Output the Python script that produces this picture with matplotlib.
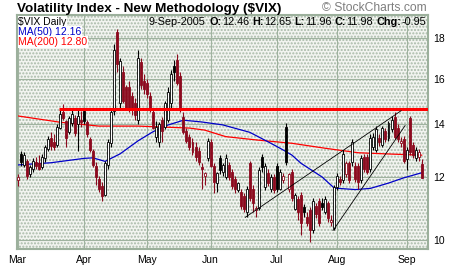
import numpy as np
import pandas as pd
import matplotlib
matplotlib.use('Agg')
import matplotlib.pyplot as plt

plt.rcParams['font.family'] = ['Liberation Sans', 'DejaVu Sans']

# trading days, 1 Mar - 9 Sep 2005 (exchange holidays dropped)
holidays = ['2005-03-25', '2005-05-30', '2005-07-04', '2005-09-05']
days = pd.bdate_range('2005-03-01', '2005-09-09').drop(pd.to_datetime(holidays))

opens = [11.90, 12.85, 12.45, 12.60, 12.10, 12.30, 12.55, 12.50, 12.35, 12.70,
         13.05, 13.45, 13.30, 13.20, 13.85, 14.50, 14.15, 13.70, 14.05, 14.25,
         14.00, 14.20, 14.55, 14.10, 13.40, 12.95, 12.40, 11.95, 11.70, 11.40,
         12.45, 13.25, 14.55, 18.30, 14.90, 16.30, 15.60, 15.60, 15.20, 14.90,
         14.20, 16.80, 15.90, 15.80, 15.20, 14.50, 13.50, 13.30, 14.20, 13.90,
         14.20, 14.90, 16.60, 16.90, 16.10, 14.30, 13.75, 13.50, 13.30, 13.10,
         12.95, 12.35, 12.05, 12.70, 13.30, 12.40, 11.80, 12.70, 12.20, 12.00,
         12.45, 12.20, 11.95, 11.58, 11.50, 11.35, 10.85, 12.50, 11.60, 10.90,
         10.98, 12.75, 11.65, 12.15, 11.60, 12.00, 12.40, 11.60, 11.90, 13.90,
         11.60, 12.20, 10.95, 11.25, 11.40, 11.00, 10.70, 10.90, 10.30, 11.05,
         11.20, 11.15, 10.85, 11.15, 10.55, 10.35, 11.65, 11.95, 11.90, 12.10,
         12.50, 12.55, 12.40, 12.40, 11.90, 12.75, 12.75, 12.30, 13.10, 13.00,
         13.45, 13.20, 13.75, 13.45, 13.80, 14.30, 13.85, 13.25, 13.40, 12.65,
         14.25, 13.20, 12.70, 12.75, 12.46]
highs = [12.10, 12.95, 12.90, 12.65, 12.45, 12.70, 12.75, 12.80, 12.85, 13.20,
         13.55, 13.70, 13.60, 14.00, 14.65, 14.85, 14.20, 14.35, 14.60, 14.40,
         14.60, 14.55, 14.70, 14.20, 13.50, 13.05, 12.55, 12.05, 11.85, 12.60,
         13.40, 14.60, 17.70, 18.50, 17.00, 16.60, 15.70, 15.90, 15.40, 15.10,
         17.40, 17.00, 16.20, 16.00, 15.40, 14.70, 14.15, 14.10, 14.30, 15.00,
         15.60, 16.40, 16.90, 17.20, 16.30, 14.50, 13.85, 13.60, 13.45, 13.30,
         13.10, 12.50, 12.20, 13.45, 13.40, 12.50, 12.20, 12.80, 12.50, 12.85,
         12.55, 12.30, 12.05, 11.85, 11.60, 11.45, 11.70, 12.60, 11.75, 11.05,
         12.35, 12.85, 12.50, 12.30, 12.10, 12.10, 12.50, 12.30, 12.15, 14.05,
         12.15, 12.30, 11.45, 11.35, 11.50, 11.10, 10.85, 11.00, 11.30, 11.15,
         11.30, 11.30, 11.35, 11.20, 10.75, 11.75, 12.15, 12.05, 13.00, 12.60,
         12.60, 13.40, 12.55, 12.50, 12.80, 12.85, 12.85, 13.60, 13.65, 13.95,
         13.60, 13.95, 13.85, 14.15, 14.35, 14.50, 14.00, 13.50, 13.55, 13.10,
         14.35, 13.30, 13.10, 13.05, 12.65]
lows = [11.70, 12.40, 12.35, 11.95, 12.00, 12.20, 12.30, 12.25, 12.30, 12.55,
        12.95, 13.00, 13.00, 13.10, 13.80, 14.20, 13.10, 13.60, 13.95, 13.55,
        12.95, 13.90, 14.00, 13.50, 12.90, 12.35, 11.75, 11.50, 11.20, 11.35,
        12.30, 13.10, 14.40, 16.30, 14.70, 14.90, 14.60, 14.50, 14.40, 14.20,
        14.00, 15.50, 15.30, 15.10, 14.50, 13.80, 13.30, 13.10, 13.30, 13.80,
        14.10, 14.70, 15.90, 15.70, 14.50, 13.60, 13.25, 13.00, 12.80, 12.60,
        12.45, 11.60, 11.75, 12.60, 12.35, 11.45, 11.50, 12.10, 12.05, 11.95,
        11.90, 11.60, 11.45, 11.50, 10.95, 10.85, 10.68, 11.20, 10.85, 10.70,
        10.90, 12.20, 11.55, 11.70, 11.50, 11.45, 11.50, 11.55, 11.80, 12.45,
        11.50, 11.20, 10.90, 10.60, 10.15, 10.70, 10.40, 9.95, 10.20, 10.65,
        10.40, 10.90, 10.80, 10.55, 10.40, 10.28, 11.55, 11.75, 11.80, 12.00,
        11.80, 12.40, 11.85, 11.60, 11.80, 12.20, 12.10, 12.20, 13.00, 12.90,
        13.15, 13.10, 13.30, 13.35, 13.70, 13.40, 13.30, 13.10, 12.50, 12.25,
        12.80, 12.70, 12.60, 12.60, 11.96]
closes = [12.00, 12.55, 12.80, 12.05, 12.35, 12.60, 12.40, 12.30, 12.75, 13.10,
          13.40, 13.15, 13.10, 13.90, 14.45, 14.25, 13.45, 14.25, 14.45, 13.65,
          14.35, 14.10, 14.15, 13.60, 13.00, 12.45, 12.00, 11.60, 11.35, 12.50,
          13.30, 14.50, 17.40, 16.70, 16.85, 15.00, 14.70, 14.65, 14.60, 14.40,
          17.00, 15.70, 15.50, 15.30, 14.60, 13.85, 13.90, 14.00, 13.75, 14.90,
          15.40, 16.20, 16.30, 15.80, 14.70, 13.70, 13.35, 13.10, 12.90, 12.75,
          12.55, 12.30, 12.15, 13.35, 12.40, 11.85, 12.15, 12.25, 12.45, 12.70,
          12.00, 11.70, 11.60, 11.80, 11.05, 10.95, 11.60, 11.30, 11.15, 10.97,
          12.25, 12.35, 12.40, 11.80, 12.00, 11.55, 11.60, 12.20, 12.05, 12.55,
          12.10, 11.30, 11.40, 10.85, 10.50, 10.85, 10.50, 10.30, 11.20, 10.80,
          10.50, 11.00, 11.25, 10.65, 10.60, 11.65, 12.05, 11.85, 12.85, 12.50,
          11.90, 13.30, 11.95, 11.85, 12.70, 12.30, 12.20, 13.45, 13.50, 13.80,
          13.30, 13.85, 13.40, 14.05, 14.20, 13.50, 13.40, 13.35, 12.60, 13.00,
          12.90, 12.80, 13.00, 12.93, 11.98]
prev_close = 12.10   # close of the session before 1 Mar

# moving averages at a few sessions
ma50_day = [0, 11, 22, 25, 29, 34, 40, 45, 50, 55, 61, 68, 77, 84, 88, 91,
            94, 101, 105, 112, 117, 123, 128, 134]
ma50_val = [12.44, 12.52, 12.68, 12.70, 12.57, 12.85, 13.35, 13.71, 13.98,
            14.17, 14.10, 13.98, 13.68, 13.25, 13.00, 12.80, 12.50, 12.01,
            11.63, 11.58, 11.62, 11.80, 11.98, 12.16]
ma200_day = [0, 14, 27, 40, 57, 62, 69, 80, 91, 102, 113, 124, 134]
ma200_val = [14.35, 14.09, 13.93, 13.93, 13.85, 13.77, 13.51, 13.37, 13.25,
             13.06, 12.89, 12.84, 12.80]

# hand-drawn annotations
resist_level = 14.65
resist_from = 13.6
trend_x = [(75.5, 127.2), (104.6, 128.5)]
trend_y = [(10.68, 14.57), (10.28, 13.95)]

y_ticks = [10, 12, 14, 16, 18]

RED = '#8c0a1e'
GRID = '#a0b3a0'

fig = plt.figure(figsize=(4.6, 2.66), dpi=100)
ax = fig.add_axes([17 / 460, 1 - 249 / 266, 411 / 460, 234 / 266])
ax.set_facecolor('#f2f4f0')
bg = plt.Rectangle((0, 0), 1, 1, transform=ax.transAxes, facecolor='none',
                   edgecolor='#a8b9a8', hatch='.....', linewidth=0, zorder=0)
ax.add_patch(bg)

x = np.arange(len(days))
o, h, l, c = (np.array(v) for v in (opens, highs, lows, closes))
pc = np.concatenate([[prev_close], c[:-1]])
col = np.where(c >= pc, 'black', RED)
face = np.where(c > o, 'white', col)

ax.vlines(x, l, h, colors=col, lw=0.8, zorder=3)
ax.bar(x, np.abs(c - o), bottom=np.minimum(o, c), width=0.66,
       color=face, edgecolor=col, linewidth=0.6, zorder=4)

ax.plot(ma200_day, ma200_val, color='#ff0000', lw=0.9, zorder=2)
ax.plot(ma50_day, ma50_val, color='#0000c8', lw=0.9, zorder=2)

ax.set_yscale('log')
ax.set_ylim(9.74, 19.25)
ax.set_xlim(-0.2, 136.1)

ax.hlines(resist_level, resist_from, 136.1, color='#ff0000', lw=2.2, zorder=5)
for tx, ty in zip(trend_x, trend_y):
    ax.plot(tx, ty, color='black', lw=0.6, zorder=5)

month_pos = [i for i in range(len(days)) if i == 0 or days[i].month != days[i - 1].month]
ax.set_xticks(month_pos)
ax.set_xticklabels([days[i].strftime('%b') for i in month_pos], fontsize=7.5)
ax.set_yticks(y_ticks)
ax.set_yticklabels([str(v) for v in y_ticks], fontsize=7.5)
ax.yaxis.set_minor_locator(matplotlib.ticker.NullLocator())
ax.yaxis.tick_right()
ax.tick_params(length=0, pad=4)
ax.grid(True, color=GRID, lw=0.8, zorder=1)
ax.set_axisbelow(True)
for s in ax.spines.values():
    s.set_color('#9cb09c')
    s.set_linewidth(1.5)

# headers
fig.text(17 / 460, 1 - 9 / 266, 'Volatility Index - New Methodology ($VIX)',
         fontsize=9.7, fontweight='bold', va='center')
fig.text(427 / 460, 1 - 8 / 266, '\u00a9 StockCharts.com', ha='right',
         va='center', color='#7f7f7f', fontsize=8.7)

box = dict(facecolor='white', edgecolor='none', pad=0.5)
ax.text(0.003, 1 - 7 / 234, '$VIX Daily', transform=ax.transAxes, fontsize=7.5,
        va='center', bbox=box, zorder=6)
ax.text(0.003, 1 - 17 / 234, f'MA(50) {ma50_val[-1]:.2f}', transform=ax.transAxes,
        fontsize=7.5, va='center', color='#0000c8', bbox=box, zorder=6)
ax.text(0.003, 1 - 27 / 234, f'MA(200) {ma200_val[-1]:.2f}', transform=ax.transAxes,
        fontsize=7.5, va='center', color='#ff0000', bbox=box, zorder=6)

pieces = [(days[-1].strftime('%-d-%b-%Y'), 'normal', 3), ('O:', 'bold', 0),
          (f'{o[-1]:.2f}', 'normal', 2.5), ('H:', 'bold', 0),
          (f'{h[-1]:.2f}', 'normal', 2.5), ('L:', 'bold', 0),
          (f'{l[-1]:.2f}', 'normal', 2.5), ('C:', 'bold', 0),
          (f'{c[-1]:.2f}', 'normal', 2.5), ('Chg:', 'bold', 0),
          (f'{c[-1] - c[-2]:.2f}', 'normal', 0)]
txt, w, _ = pieces[-1]
prev = ax.text(1 - 2 / 411, 1 - 7 / 234, txt, transform=ax.transAxes,
               fontsize=7.8, fontweight=w, ha='right', va='center', zorder=6)
for txt, w, gap in reversed(pieces[:-1]):
    prev = ax.annotate(txt, xy=(0, 0.5), xycoords=prev, xytext=(-gap, 0),
                       textcoords='offset points', ha='right', va='center',
                       fontsize=7.8, fontweight=w, zorder=6)

fig.savefig('out.png', dpi=100)
